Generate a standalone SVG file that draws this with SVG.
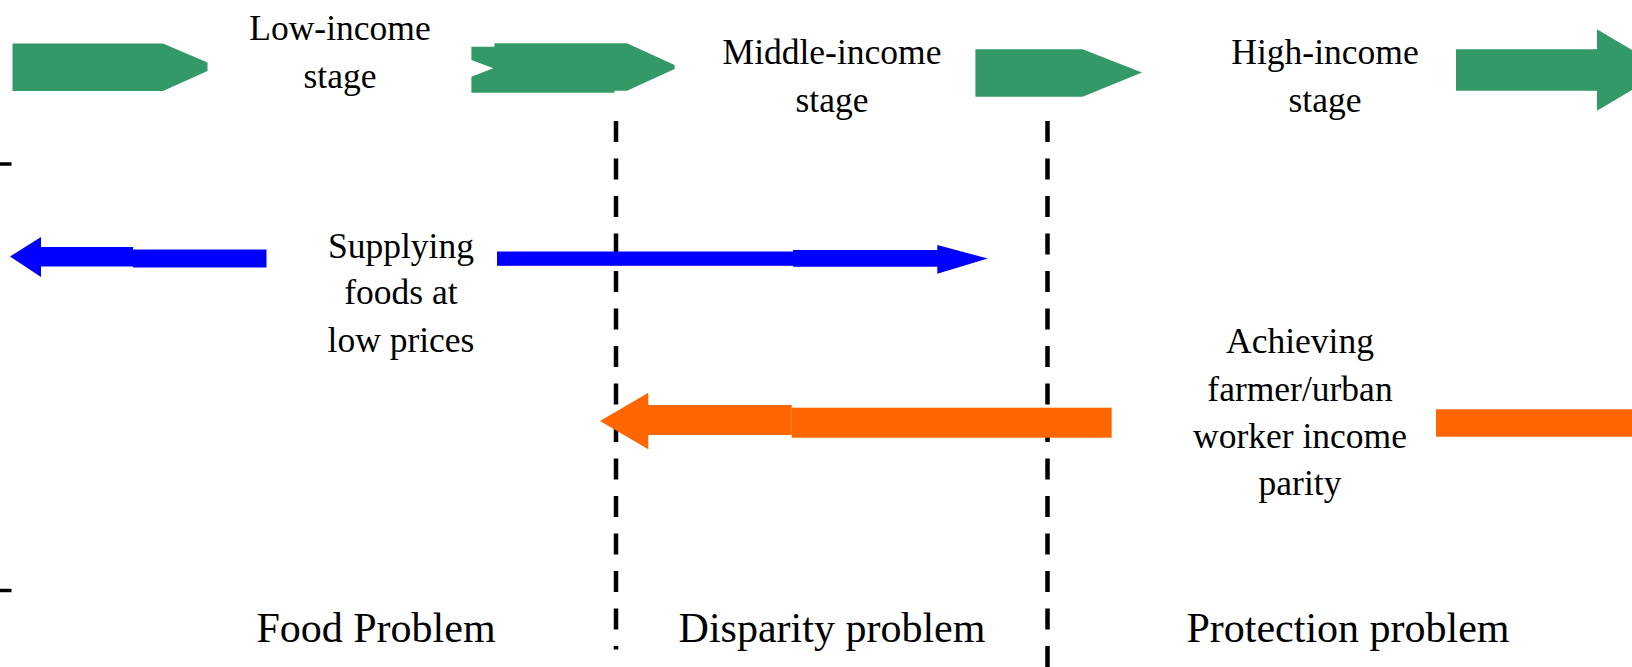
<svg xmlns="http://www.w3.org/2000/svg" width="1632" height="667" viewBox="0 0 1632 667">
<style>
  .lbl { font-family: "Liberation Serif", "Times New Roman", serif; font-size: 35.5px; fill: #000; text-anchor: middle; }
  .big { font-family: "Liberation Serif", "Times New Roman", serif; font-size: 42px; fill: #000; text-anchor: middle; }
  .green { fill: #339966; }
  .blue { fill: #0000FF; }
  .orange { fill: #FF6600; }
  .divider { stroke: #000; stroke-width: 4.5; stroke-dasharray: 21 16.5; fill: none; }
  .tick { stroke: #000; stroke-width: 3.5; fill: none; }
</style>
<rect width="1632" height="667" fill="#ffffff"/>

<g id="stage-arrows">
  <polygon class="green" points="12.5,43.5 163,43.5 207.5,62.5 207.5,71 163,91 12.5,91"/>
  <polygon class="green" points="471.4,46.7 494.5,46.7 494.5,43.3 627,43.3 674.6,65 674.6,69 627,90.7 614.5,90.7 614.5,92.7 471.4,92.7 471.4,76.7 493.3,68.3 471.4,60"/>
  <polygon class="green" points="975.4,49.3 1082.6,49.3 1142,72.5 1082.6,96.7 975.4,96.7"/>
  <polygon class="green" points="1456,49.3 1597,49.3 1597,29.3 1666,70 1597,110.7 1597,90.7 1456,90.7"/>
</g>

<g id="ticks">
  <line class="tick" x1="0" y1="164" x2="11.5" y2="164"/>
  <line class="tick" x1="0" y1="590.5" x2="11.5" y2="590.5"/>
</g>

<g id="dividers">
  <line class="divider" x1="616" y1="121" x2="616" y2="649.5"/>
  <line class="divider" x1="1047.5" y1="121" x2="1047.5" y2="667"/>
</g>

<g id="node-low-income">
  <text class="lbl" x="340" y="39.5">Low-income</text>
  <text class="lbl" x="340" y="87.5">stage</text>
</g>
<g id="node-middle-income">
  <text class="lbl" x="832" y="64">Middle-income</text>
  <text class="lbl" x="832" y="111.5">stage</text>
</g>
<g id="node-high-income">
  <text class="lbl" x="1325" y="64">High-income</text>
  <text class="lbl" x="1325" y="111.5">stage</text>
</g>

<g id="node-supplying">
  <text class="lbl" x="401" y="257.5">Supplying</text>
  <text class="lbl" x="401" y="304">foods at</text>
  <text class="lbl" x="401" y="351.5">low prices</text>
</g>
<g id="node-achieving">
  <text class="lbl" x="1300" y="353">Achieving</text>
  <text class="lbl" x="1300" y="400.5">farmer/urban</text>
  <text class="lbl" x="1300" y="447.5">worker income</text>
  <text class="lbl" x="1300" y="495">parity</text>
</g>

<g id="connectors">
  <g id="blue-left">
    <polygon class="blue" points="10,256.5 41,237 41,247 133,247 133,266.5 41,266.5 41,277"/>
    <rect class="blue" x="133" y="249.5" width="133.5" height="18"/>
  </g>
  <g id="blue-right">
    <rect class="blue" x="497" y="251.5" width="296" height="14.3"/>
    <polygon class="blue" points="793,250 937.3,250 937.3,245 987.7,258.5 937.3,273.7 937.3,266.7 793,266.7"/>
  </g>
  <g id="orange-left">
    <polygon class="orange" points="600,421 648.3,392.7 648.3,405 791.7,405 791.7,435 648.3,435 648.3,449.3"/>
    <rect class="orange" x="791.7" y="407.7" width="320" height="30"/>
  </g>
  <g id="orange-right">
    <rect class="orange" x="1436" y="409.3" width="196" height="27.4"/>
  </g>
</g>

<g id="node-problems">
  <text class="big" x="376" y="642">Food Problem</text>
  <text class="big" x="832" y="642">Disparity problem</text>
  <text class="big" x="1348" y="642">Protection problem</text>
</g>
</svg>
